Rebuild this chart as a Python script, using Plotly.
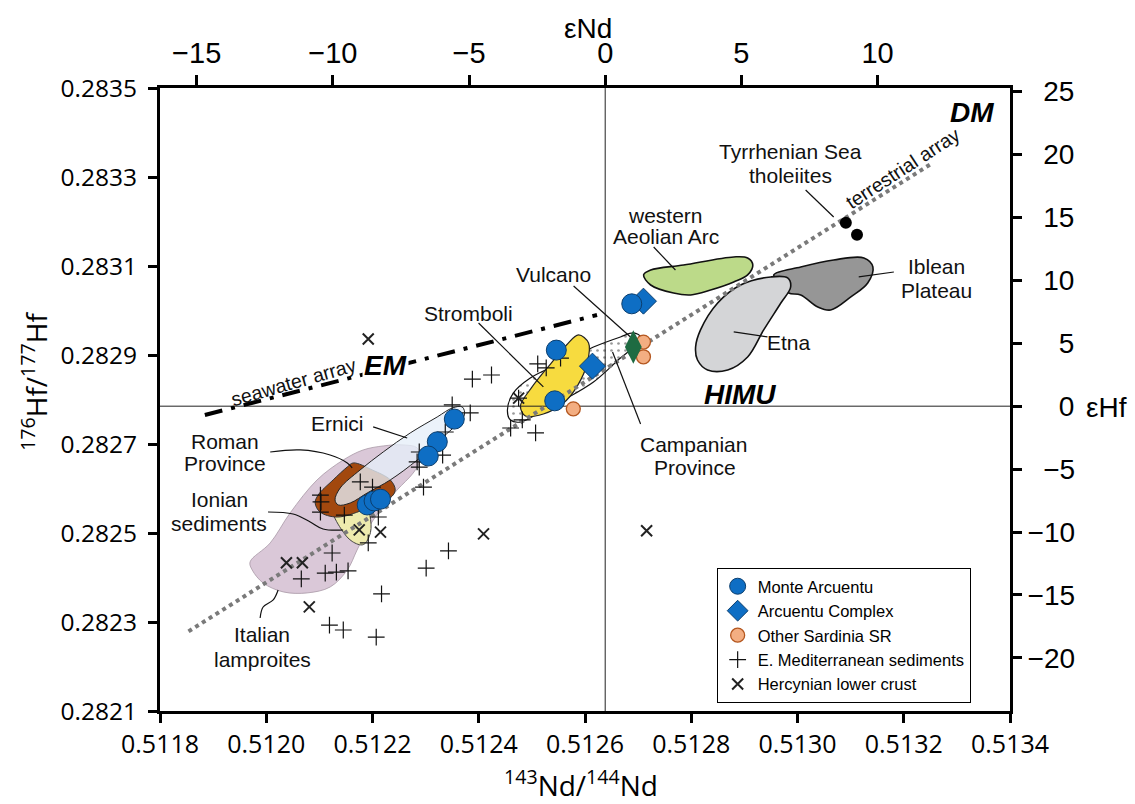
import plotly.graph_objects as go

# ---------------- constants / axes ----------------
CHUR_ND = 0.512638
CHUR_HF = 0.282785

ND_RANGE = [0.5118, 0.5134]
HF_RANGE = [0.2821, 0.2835]

ND_TICKS = [0.5118, 0.5120, 0.5122, 0.5124, 0.5126, 0.5128, 0.5130, 0.5132, 0.5134]
ND_TICKLABELS = ["0.5118", "0.5120", "0.5122", "0.5124", "0.5126", "0.5128", "0.5130", "0.5132", "0.5134"]
HF_TICKS = [0.2821, 0.2823, 0.2825, 0.2827, 0.2829, 0.2831, 0.2833, 0.2835]
HF_TICKLABELS = ["0.2821", "0.2823", "0.2825", "0.2827", "0.2829", "0.2831", "0.2833", "0.2835"]
END_TICKS = [-15, -10, -5, 0, 5, 10]
END_TICKLABELS = ["\u221215", "\u221210", "\u22125", "0", "5", "10"]
EHF_TICKS = [-20, -15, -10, -5, 0, 5, 10, 15, 20, 25]
NB = "\u00a0"
EHF_TICKLABELS = ["\u221220", "\u221215", "\u221210", NB * 2 + "\u22125", NB * 4 + "0",
                  NB * 4 + "5", NB * 2 + "10", NB * 2 + "15", NB * 2 + "20", NB * 2 + "25"]

# ---------------- point data (143Nd/144Nd, 176Hf/177Hf) ----------------
monte_nd = [0.512688, 0.512546, 0.512543, 0.512354, 0.512322, 0.512305, 0.512190, 0.512203, 0.512215]
monte_hf = [0.283015, 0.282911, 0.282797, 0.282756, 0.282705, 0.282673, 0.282563, 0.282572, 0.282576]

complex_nd = [0.512710, 0.512614]
complex_hf = [0.283021, 0.282875]

sardinia_nd = [0.512710, 0.512710, 0.512578]
sardinia_hf = [0.282929, 0.282896, 0.282779]

vulcano_nd = [0.512691]
vulcano_hf = [0.282918]

tyrrhenian_nd = [0.513091, 0.513112]
tyrrhenian_hf = [0.283197, 0.283170]

sed_nd = [0.512350, 0.512384, 0.512337, 0.512332, 0.512288, 0.512284, 0.512288, 0.512296,
          0.512177, 0.512200, 0.512102, 0.512103, 0.512102, 0.512147, 0.512211, 0.512192,
          0.512124, 0.512111, 0.512132, 0.512154, 0.512066, 0.512217, 0.512119, 0.512145,
          0.512207, 0.512301, 0.512343, 0.512511, 0.512527, 0.512388, 0.512424, 0.512482,
          0.512507, 0.512460, 0.512554, 0.512475]
sed_hf = [0.282788, 0.282770, 0.282727, 0.282675, 0.282682, 0.282660, 0.282648, 0.282603,
          0.282615, 0.282603, 0.282585, 0.282570, 0.282547, 0.282540, 0.282536, 0.282478,
          0.282455, 0.282410, 0.282412, 0.282415, 0.282397, 0.282363, 0.282293, 0.282282,
          0.282266, 0.282421, 0.282460, 0.282880, 0.282871, 0.282846, 0.282855, 0.282754,
          0.282725, 0.282736, 0.282893, 0.282803]

hercynian_nd = [0.512192, 0.512409, 0.512716, 0.512038, 0.512068, 0.512081, 0.512215, 0.512175, 0.512475]
hercynian_hf = [0.282936, 0.282498, 0.282505, 0.282433, 0.282433, 0.282334, 0.282502, 0.282507, 0.282803]

# ---------------- fields (epsilon units) ----------------
lamp_end = [-13.04, -12.30, -11.57, -10.58, -9.62, -8.89, -8.15, -7.42, -6.90, -6.79, -7.05,
            -7.64, -8.26, -8.74, -9.11, -9.47, -10.10, -10.94, -11.82, -12.56, -12.96]
lamp_ehf = [-12.38, -10.87, -8.49, -5.86, -4.28, -3.48, -3.16, -3.08, -3.32, -4.28, -5.31,
            -6.66, -8.25, -9.84, -11.43, -13.02, -14.37, -14.84, -14.76, -14.05, -13.02]

ionian_end = [-9.95, -9.55, -9.15, -8.88, -8.64, -8.62, -8.88, -9.29, -9.70, -10.05]
ionian_ehf = [-6.26, -5.10, -5.40, -7.06, -8.65, -10.05, -11.00, -10.75, -9.75, -8.09]

roman_end = [-9.25, -8.55, -7.89, -7.71, -7.89, -8.89, -9.84, -10.47, -10.65, -10.54, -9.99, -9.47]
roman_ehf = [-4.51, -5.07, -5.86, -6.66, -7.29, -8.25, -8.81, -8.41, -7.69, -7.06, -5.86, -4.83]

ernici_end = [-9.92, -9.73, -9.00, -8.15, -7.16, -6.17, -5.61, -5.25, -5.17, -5.95, -6.90,
              -7.89, -8.74, -9.36, -9.80]
ernici_ehf = [-7.45, -6.50, -5.07, -3.64, -2.13, -0.86, -0.14, -0.06, -0.70, -2.45, -4.28,
              -5.86, -6.90, -7.69, -7.85]

campanian_end = [-3.59, -3.37, -2.75, -1.64, -0.43, 0.56, 1.04, 1.30, 1.04, 0.56, -0.43,
                 -1.53, -2.49, -3.11, -3.48]
campanian_ehf = [-0.30, 1.05, 2.24, 3.43, 4.70, 5.50, 5.82, 5.50, 4.70, 3.83, 1.92,
                 0.49, -0.62, -1.26, -1.10]

stromboli_end = [-0.98, -0.61, -0.65, -1.02, -1.57, -2.27, -2.93, -3.11, -2.71, -2.01, -1.42]
stromboli_ehf = [5.66, 5.02, 3.51, 1.61, 0.17, -0.62, -0.78, 0.02, 1.45, 3.35, 4.86]

aeolian_end = [1.41, 1.67, 2.88, 4.72, 5.23, 5.42, 5.23, 4.72, 3.87, 3.14, 2.51, 1.67]
aeolian_ehf = [10.43, 10.82, 11.22, 11.86, 11.78, 11.22, 10.43, 9.87, 9.23, 8.84, 8.99, 9.63]

iblean_end = [6.19, 7.18, 8.39, 9.50, 9.83, 9.64, 9.02, 8.28, 7.81, 7.18, 6.74, 6.52]
iblean_ehf = [10.43, 11.06, 11.62, 11.78, 11.06, 9.79, 8.68, 7.64, 7.88, 8.84, 8.99, 9.63]

etna_end = [3.32, 3.50, 4.13, 4.97, 6.08, 6.70, 6.81, 6.45, 5.82, 5.23, 4.50, 3.76, 3.39]
etna_ehf = [4.70, 6.06, 8.20, 9.63, 10.27, 10.19, 9.47, 8.20, 6.06, 3.91, 2.88, 2.88, 3.67]

# arrays
terrestrial_end = [-15.3, 12.0]
terrestrial_ehf = [-17.9, 19.3]
seawater_end = [-14.7, -0.3]
seawater_ehf = [-0.7, 7.25]

# leader lines (epsilon units)
leader_end = [[7.36, 8.39], [1.78, 2.58], [10.60, 9.31], [5.96, 4.72], [-1.16, 0.97],
              [-4.65, -2.27], [1.30, 0.27], [-8.52, -7.27],
              [-12.30, -11.20, -10.10, -9.47, -9.29],
              [-12.38, -11.46, -10.83, -10.36, -9.62],
              [-12.67, -12.56, -12.19, -12.01]]
leader_ehf = [[17.18, 15.03], [12.65, 10.82], [10.66, 10.27], [5.50, 5.90], [9.55, 5.42],
              [6.61, 1.53], [-1.41, 4.31], [-1.65, -2.53],
              [-3.64, -3.48, -3.88, -4.51, -4.91],
              [-8.41, -8.57, -9.20, -9.76, -9.84],
              [-16.83, -15.96, -15.40, -14.61]]

# text labels (epsilon units)
label_text = ["Tyrrhenian Sea", "tholeiites", "western", "Aeolian Arc", "Iblean", "Plateau",
              "Etna", "Vulcano", "Stromboli", "Campanian", "Province", "Ernici",
              "Roman", "Province", "Ionian", "sediments", "Italian", "lamproites"]
label_end = [6.81, 6.81, 2.22, 2.22, 12.17, 12.17, 6.75, -1.9, -5.01, 3.24, 3.29, -9.84,
             -13.96, -13.96, -14.18, -14.18, -12.59, -12.59]
label_ehf = [20.20, 18.37, 15.19, 13.45, 11.09, 9.23, 5.08, 10.43, 7.33, -3.07, -4.89, -1.34,
             -2.77, -4.59, -7.45, -9.36, -18.18, -20.17]

end_member_text = ["EM", "HIMU", "DM"]
end_member_end = [-8.08, 4.94, 13.47]
end_member_ehf = [3.27, 0.89, 23.30]


def nd_from_eps(e):
    return [CHUR_ND * (1 + v / 1e4) for v in e]


def hf_from_eps(e):
    return [CHUR_HF * (1 + v / 1e4) for v in e]


def eps_nd(v):
    return (v / CHUR_ND - 1) * 1e4


def eps_hf(v):
    return (v / CHUR_HF - 1) * 1e4


FONT = "Liberation Sans, Arial, sans-serif"
TICKFONT2 = "Open Sans, Liberation Sans, sans-serif"

fig = go.Figure()


def add_field(end, ehf, fill, line_color, line_width=1.2, pattern=None):
    xs = nd_from_eps(end + end[:1])
    ys = hf_from_eps(ehf + ehf[:1])
    kw = dict(x=xs, y=ys, mode="lines", fill="toself", fillcolor=fill,
              line=dict(color=line_color, width=line_width, shape="spline", smoothing=1.0),
              hoverinfo="skip", showlegend=False)
    if pattern is not None:
        kw["fillpattern"] = pattern
    fig.add_trace(go.Scatter(**kw))


add_field(lamp_end, lamp_ehf, "rgba(214,194,212,0.9)", "#A898A6", 0.8)
add_field(ionian_end, ionian_ehf, "#EEEBAE", "#444444", 1.0)
add_field(roman_end, roman_ehf, "#A2480E", "#333333", 1.0)
add_field(ernici_end, ernici_ehf, "rgba(230,238,248,0.78)", "#222222", 1.0)
add_field(campanian_end, campanian_ehf, "white", "#111111", 1.2,
          pattern=dict(shape=".", fgcolor="#333333", bgcolor="white", size=7, solidity=0.12))
add_field(stromboli_end, stromboli_ehf, "#F7DB3F", "#222222", 1.2)
add_field(aeolian_end, aeolian_ehf, "#BCDA89", "#111111", 1.6)
add_field(iblean_end, iblean_ehf, "#969696", "#111111", 1.6)
add_field(etna_end, etna_ehf, "#D4D5D7", "#111111", 1.6)

# epsilon = 0 reference lines
fig.add_trace(go.Scatter(x=[CHUR_ND, CHUR_ND], y=HF_RANGE, mode="lines",
                         line=dict(color="#222222", width=1), hoverinfo="skip", showlegend=False))
fig.add_trace(go.Scatter(x=ND_RANGE, y=[CHUR_HF, CHUR_HF], mode="lines",
                         line=dict(color="#222222", width=1), hoverinfo="skip", showlegend=False))

# arrays
fig.add_trace(go.Scatter(x=nd_from_eps(terrestrial_end), y=hf_from_eps(terrestrial_ehf), mode="lines",
                         line=dict(color="#7A7A7A", width=4, dash="dot"),
                         hoverinfo="skip", showlegend=False))
fig.add_trace(go.Scatter(x=nd_from_eps(seawater_end), y=hf_from_eps(seawater_ehf), mode="lines",
                         line=dict(color="black", width=4, dash="18px,9px,4px,9px"),
                         hoverinfo="skip", showlegend=False))

# leader lines
for le, lh in zip(leader_end, leader_ehf):
    fig.add_trace(go.Scatter(x=nd_from_eps(le), y=hf_from_eps(lh), mode="lines",
                             line=dict(color="#111111", width=1.2, shape="spline"),
                             hoverinfo="skip", showlegend=False))

# points
fig.add_trace(go.Scatter(x=sed_nd, y=sed_hf, mode="markers", name="E. Mediterranean sediments",
                         marker=dict(symbol="cross-thin", size=12, color="#111111",
                                     line=dict(color="#111111", width=1.2)),
                         legendrank=4))
fig.add_trace(go.Scatter(x=hercynian_nd, y=hercynian_hf, mode="markers", name="Hercynian lower crust",
                         marker=dict(symbol="x-thin", size=11, color="#222222",
                                     line=dict(color="#222222", width=2)),
                         legendrank=5))
fig.add_trace(go.Scatter(x=sardinia_nd, y=sardinia_hf, mode="markers", name="Other Sardinia SR",
                         marker=dict(symbol="circle", size=14, color="#F3AE82",
                                     line=dict(color="#B4561E", width=1.3)),
                         legendrank=3))
fig.add_trace(go.Scatter(x=vulcano_nd, y=vulcano_hf, mode="markers", showlegend=False,
                         marker=dict(symbol="diamond-tall", size=24, color="#1E6B42",
                                     line=dict(color="#1E6B42", width=0))))
fig.add_trace(go.Scatter(x=complex_nd, y=complex_hf, mode="markers", name="Arcuentu Complex",
                         marker=dict(symbol="diamond", size=20, color="#0E6EC4",
                                     line=dict(color="#0B3E6E", width=1)),
                         legendrank=2))
fig.add_trace(go.Scatter(x=monte_nd, y=monte_hf, mode="markers", name="Monte Arcuentu",
                         marker=dict(symbol="circle", size=20, color="#0E6EC4",
                                     line=dict(color="#0B3E6E", width=1)),
                         legendrank=1))
fig.add_trace(go.Scatter(x=tyrrhenian_nd, y=tyrrhenian_hf, mode="markers", showlegend=False,
                         marker=dict(symbol="circle", size=12, color="black")))

# invisible trace to activate epsilon axes
fig.add_trace(go.Scatter(x=[eps_nd(ND_RANGE[0]), eps_nd(ND_RANGE[1])],
                         y=[eps_hf(HF_RANGE[0]), eps_hf(HF_RANGE[1])],
                         xaxis="x2", yaxis="y2", mode="markers", marker=dict(opacity=0),
                         hoverinfo="skip", showlegend=False))

annotations = []
for t, xe, ye in zip(label_text, label_end, label_ehf):
    annotations.append(dict(text=t, x=xe, y=ye, xref="x2", yref="y2", showarrow=False,
                            xanchor="center", yanchor="middle",
                            font=dict(family=FONT, size=21, color="#111111")))
annotations.append(dict(text="terrestrial array", x=10.93, y=18.93, xref="x2", yref="y2",
                        showarrow=False, textangle=-33, xanchor="center", yanchor="middle",
                        font=dict(family=FONT, size=19.5, color="#111111")))
annotations.append(dict(text="seawater array", x=-11.46, y=1.92, xref="x2", yref="y2",
                        showarrow=False, textangle=-16, xanchor="center", yanchor="middle",
                        font=dict(family=FONT, size=19.5, color="#111111")))
for t, xe, ye in zip(end_member_text, end_member_end, end_member_ehf):
    annotations.append(dict(text="<b><i>" + t + "</i></b>", x=xe, y=ye, xref="x2", yref="y2",
                            showarrow=False, xanchor="center", yanchor="middle",
                            bgcolor="white" if t == "EM" else "rgba(0,0,0,0)",
                            font=dict(family=FONT, size=28, color="black")))

# axis titles
annotations += [
    dict(text="\u03b5Nd", x=(587 - 160) / 849, y=(711 - 28) / 623, xref="paper", yref="paper",
         xanchor="center", yanchor="middle",
         showarrow=False, font=dict(family=FONT, size=28, color="black")),
    dict(text="<sup>143</sup>Nd/<sup>144</sup>Nd", x=(581 - 160) / 849, y=(711 - 784) / 623,
         xanchor="center", yanchor="middle",
         xref="paper", yref="paper", showarrow=False, font=dict(family=TICKFONT2, size=28, color="black")),
    dict(text="<sup>176</sup>Hf/<sup>177</sup>Hf", x=(34 - 160) / 849, y=(711 - 381) / 623,
         xanchor="center", yanchor="middle",
         xref="paper", yref="paper", showarrow=False, textangle=-90,
         font=dict(family=TICKFONT2, size=28, color="black")),
    dict(text="\u03b5Hf", x=(1105 - 160) / 849, y=(711 - 407) / 623, xref="paper", yref="paper",
         xanchor="center", yanchor="middle",
         showarrow=False, font=dict(family=FONT, size=28, color="black")),
]

axis_common = dict(showgrid=False, zeroline=False, showline=True, linecolor="black", linewidth=3,
                   ticks="outside", tickcolor="black", tickwidth=3, ticklen=9)

fig.update_layout(
    width=1135, height=804,
    margin=dict(l=160, r=125, t=88, b=93, pad=0),
    plot_bgcolor="white", paper_bgcolor="white",
    font=dict(family=FONT, color="black"),
    xaxis=dict(range=ND_RANGE, tickvals=ND_TICKS, ticktext=ND_TICKLABELS,
               tickfont=dict(family=TICKFONT2, size=25), **axis_common),
    yaxis=dict(range=HF_RANGE, tickvals=HF_TICKS, ticktext=HF_TICKLABELS, ticklabelstandoff=6,
               tickfont=dict(family=TICKFONT2, size=24.5), **axis_common),
    xaxis2=dict(range=[eps_nd(ND_RANGE[0]), eps_nd(ND_RANGE[1])], overlaying="x", side="top",
                anchor="y", tickvals=END_TICKS, ticktext=END_TICKLABELS,
                tickfont=dict(family=FONT, size=29), **dict(axis_common, ticklen=10)),
    yaxis2=dict(range=[eps_hf(HF_RANGE[0]), eps_hf(HF_RANGE[1])], overlaying="y", side="right",
                anchor="x", tickvals=EHF_TICKS, ticktext=EHF_TICKLABELS,
                tickfont=dict(family=FONT, size=28), **axis_common),
    legend=dict(x=(716 - 160) / 849, y=(711 - 568) / 623, xanchor="left", yanchor="top",
                bgcolor="white", bordercolor="black", borderwidth=1,
                font=dict(family=FONT, size=16.5, color="black"), tracegroupgap=0),
    annotations=annotations,
    showlegend=True,
)

fig.write_html("out.html")
